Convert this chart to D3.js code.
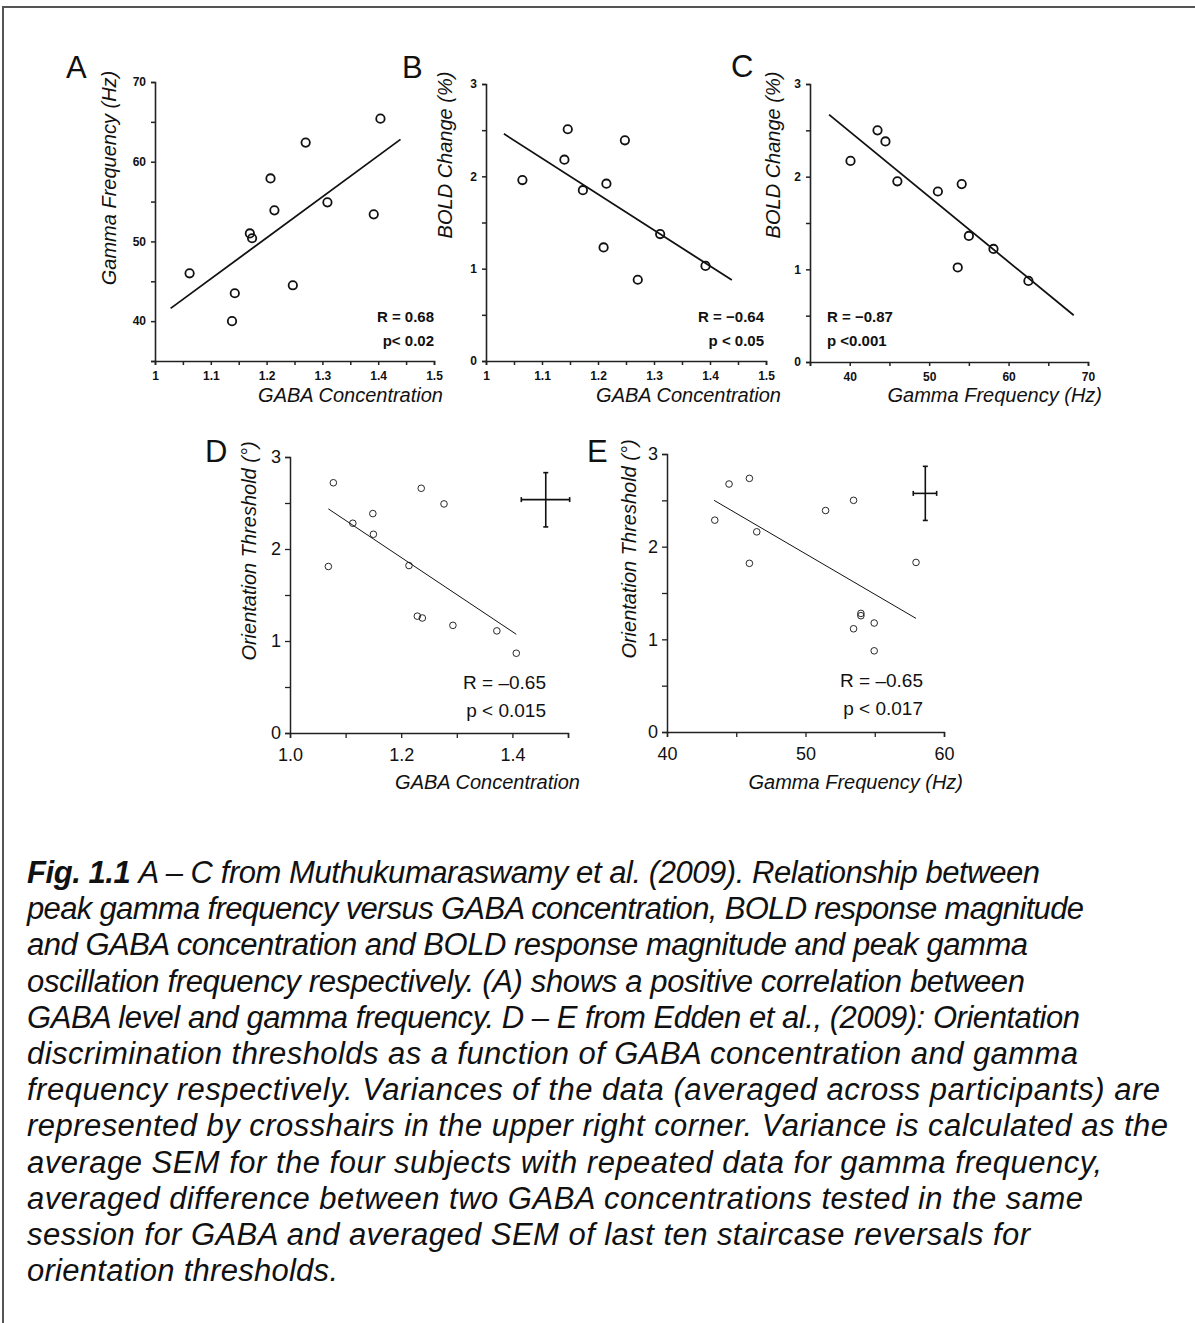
<!DOCTYPE html>
<html>
<head>
<meta charset="utf-8">
<script src="https://cdn.jsdelivr.net/npm/d3@7"></script>
<style>
  body { margin: 0; background: #fff; }
  svg text { font-family: "Liberation Sans", Arial, sans-serif; fill: #111; }
</style>
</head>
<body>
<div id="chart"></div>
<script>
// --- data ---
// A: gamma frequency vs GABA
const gabaA  = [1.062, 1.138, 1.143, 1.170, 1.174, 1.207, 1.214, 1.247, 1.270, 1.309, 1.392, 1.404];
const gammaA = [46.0, 40.0, 43.5, 51.0, 50.4, 57.9, 53.9, 44.5, 62.4, 54.9, 53.4, 65.4];
const fitA = [[1.028, 41.6], [1.440, 62.8]];

// B: BOLD change vs GABA
const gabaB = [1.065, 1.140, 1.146, 1.173, 1.215, 1.210, 1.248, 1.271, 1.311, 1.392];
const boldB = [1.96, 2.18, 2.51, 1.85, 1.92, 1.23, 2.39, 0.88, 1.375, 1.03];
const fitB = [[1.032, 2.46], [1.439, 0.877]];

// C: BOLD change vs gamma frequency
const gammaC = [40.1, 43.5, 44.5, 46.0, 51.1, 54.1, 53.6, 55.0, 58.1, 62.5];
const boldC  = [2.17, 2.50, 2.38, 1.95, 1.84, 1.92, 1.02, 1.36, 1.22, 0.875];
const fitC = [[37.4, 2.67], [68.2, 0.504]];

// D: orientation threshold vs GABA
const gabaD   = [1.078, 1.069, 1.113, 1.149, 1.150, 1.214, 1.236, 1.277, 1.229, 1.238, 1.293, 1.372, 1.407];
const threshD = [2.72, 1.81, 2.28, 2.385, 2.16, 1.82, 2.66, 2.49, 1.27, 1.25, 1.17, 1.11, 0.867];
const fitD = [[1.069, 2.436], [1.407, 1.073]];
const crossD = {x: 1.460, y: 2.537, x0: 1.416, x1: 1.503, y0: 2.24, y1: 2.83};

// E: orientation threshold vs gamma frequency
const gammaE  = [43.45, 44.48, 45.95, 46.48, 45.95, 51.45, 53.47, 57.98, 54.0, 54.0, 53.47, 54.96, 54.96];
const threshE = [2.286, 2.676, 2.737, 2.16, 1.82, 2.39, 2.50, 1.83, 1.28, 1.255, 1.114, 1.176, 0.876];
const fitE = [[43.4, 2.50], [57.98, 1.226]];
const crossE = {x: 58.65, y: 2.575, x0: 57.78, x1: 59.47, y0: 2.283, y1: 2.867};

// tick values and labels
const gabaTicksAB  = d3.range(0, 11).map(i => 1 + i * 0.05);
const gabaLabelsAB = [1, 1.1, 1.2, 1.3, 1.4, 1.5];
const gammaTicksA  = d3.range(35, 71, 5);
const gammaLabelsA = [40, 50, 60, 70];
const boldTicks    = [0, 0.5, 1, 1.5, 2, 2.5, 3];
const boldLabels   = [0, 1, 2, 3];
const gammaTicksC  = d3.range(35, 71, 5);
const gammaLabelsC = [40, 50, 60, 70];
const gabaTicksD   = [1.0, 1.1, 1.2, 1.3, 1.4, 1.5];
const gabaLabelsD  = [1.0, 1.2, 1.4];
const gammaTicksE  = [40, 45, 50, 55, 60];
const gammaLabelsE = [40, 50, 60];

const captionLines = [
  "A \u2013 C from Muthukumaraswamy et al. (2009). Relationship between",
  "peak gamma frequency versus GABA concentration, BOLD response magnitude",
  "and GABA concentration and BOLD response magnitude and peak gamma",
  "oscillation frequency respectively. (A) shows a positive correlation between",
  "GABA level and gamma frequency. D \u2013 E from Edden et al., (2009): Orientation",
  "discrimination thresholds as a function of GABA concentration and gamma",
  "frequency respectively. Variances of the data (averaged across participants) are",
  "represented by crosshairs in the upper right corner. Variance is calculated as the",
  "average SEM for the four subjects with repeated data for gamma frequency,",
  "averaged difference between two GABA concentrations tested in the same",
  "session for GABA and averaged SEM of last ten staircase reversals for",
  "orientation thresholds."
];
// where each caption line ends on the page (layout, not data)
const captionRight = [1040, 1084, 1028, 1025, 1080, 1078, 1160, 1168, 1102, 1083, 1030, 338];

const W = 1195, H = 1323;
const svg = d3.select("#chart").append("svg")
  .attr("width", W).attr("height", H);

// frame (top and left edges only)
svg.append("path")
  .attr("d", `M3,${H} L3,7 L${W},7`)
  .attr("fill", "none").attr("stroke", "#555").attr("stroke-width", 2);

// panel definitions
const panels = [
  {letter: "A", lx: 66, ly: 78, xs: gabaA, ys: gammaA, fit: fitA,
   box: [155, 434, 82, 361], xd: [1, 1.5], yd: [35, 70],
   xt: gabaTicksAB, xl: gabaLabelsAB, yt: gammaTicksA, yl: gammaLabelsA, xf: d3.format("~g"),
   xlab: "GABA Concentration", xlx: 443, xly: 402,
   ylab: "Gamma Frequency (Hz)", ylx: 116, yly: 178,
   stats: ["R = 0.68", "p< 0.02"], sx: 434, sy: 322, anchor: "end", style: "old"},
  {letter: "B", lx: 402, ly: 78, xs: gabaB, ys: boldB, fit: fitB,
   box: [486, 766, 84, 361], xd: [1, 1.5], yd: [0, 3],
   xt: gabaTicksAB, xl: gabaLabelsAB, yt: boldTicks, yl: boldLabels, xf: d3.format("~g"),
   xlab: "GABA Concentration", xlx: 781, xly: 402,
   ylab: "BOLD Change (%)", ylx: 452, yly: 155,
   stats: ["R = \u22120.64", "p < 0.05"], sx: 764, sy: 322, anchor: "end", style: "old"},
  {letter: "C", lx: 731, ly: 77, xs: gammaC, ys: boldC, fit: fitC,
   box: [810, 1088, 84, 362], xd: [35, 70], yd: [0, 3],
   xt: gammaTicksC, xl: gammaLabelsC, yt: boldTicks, yl: boldLabels, xf: d3.format("d"),
   xlab: "Gamma Frequency (Hz)", xlx: 1102, xly: 402,
   ylab: "BOLD Change (%)", ylx: 780, yly: 155,
   stats: ["R = \u22120.87", "p <0.001"], sx: 827, sy: 322, anchor: "start", style: "old"},
  {letter: "D", lx: 205, ly: 462, xs: gabaD, ys: threshD, fit: fitD, cross: crossD,
   box: [290, 568, 457, 733], xd: [1.0, 1.5], yd: [0, 3],
   xt: gabaTicksD, xl: gabaLabelsD, yt: boldTicks, yl: boldLabels, xf: d3.format(".1f"),
   xlab: "GABA Concentration", xlx: 580, xly: 789,
   ylab: "Orientation Threshold (\u00b0)", ylx: 256, yly: 551,
   stats: ["R = \u20130.65", "p < 0.015"], sx: 546, sy: 689, anchor: "end", style: "new"},
  {letter: "E", lx: 587, ly: 462, xs: gammaE, ys: threshE, fit: fitE, cross: crossE,
   box: [667, 944, 454, 732], xd: [40, 60], yd: [0, 3],
   xt: gammaTicksE, xl: gammaLabelsE, yt: boldTicks, yl: boldLabels, xf: d3.format("d"),
   xlab: "Gamma Frequency (Hz)", xlx: 963, xly: 789,
   ylab: "Orientation Threshold (\u00b0)", ylx: 636, yly: 549,
   stats: ["R = \u20130.65", "p < 0.017"], sx: 923, sy: 687, anchor: "end", style: "new"}
];

panels.forEach(p => {
  const [x0, x1, y0, y1] = p.box;
  const old = p.style === "old";
  const x = d3.scaleLinear().domain(p.xd).range([x0, x1]);
  const y = d3.scaleLinear().domain(p.yd).range([y1, y0]);
  const g = svg.append("g");

  const fmtY = v => p.yl.includes(v) ? String(v) : "";
  const fmtX = v => p.xl.some(l => Math.abs(l - v) < 1e-9) ? p.xf(v) : "";

  const yAxis = g.append("g").attr("transform", `translate(${x0},0)`)
    .call(d3.axisLeft(y).tickValues(p.yt).tickFormat(fmtY)
      .tickSize(old ? 4 : 5).tickPadding(old ? 5 : 4));
  const xAxis = g.append("g").attr("transform", `translate(0,${y1})`)
    .call(d3.axisBottom(x).tickValues(p.xt).tickFormat(fmtX)
      .tickSize(old ? 4 : 5).tickPadding(old ? 6 : 10));

  [yAxis, xAxis].forEach(ax => {
    ax.select(".domain").attr("stroke", "#222").attr("stroke-width", old ? 1.6 : 1.5);
    ax.selectAll(".tick line").attr("stroke", "#222").attr("stroke-width", old ? 1.5 : 1.3);
    ax.selectAll(".tick text")
      .style("font-family", '"Liberation Sans", Arial, sans-serif')
      .style("font-size", old ? "12px" : "18px")
      .style("font-weight", old ? "bold" : "normal")
      .attr("fill", "#222");
  });

  // regression line
  g.append("line")
    .attr("x1", x(p.fit[0][0])).attr("y1", y(p.fit[0][1]))
    .attr("x2", x(p.fit[1][0])).attr("y2", y(p.fit[1][1]))
    .attr("stroke", "#111").attr("stroke-width", old ? 1.8 : 1);

  // data points
  g.selectAll("circle.pt")
    .data(p.xs.map((v, i) => [v, p.ys[i]]))
    .enter().append("circle")
    .attr("class", "pt")
    .attr("cx", d => x(d[0])).attr("cy", d => y(d[1]))
    .attr("r", old ? 4.2 : 3.3)
    .attr("fill", "none").attr("stroke", "#111")
    .attr("stroke-width", old ? 1.8 : 0.9);

  // variance crosshair
  if (p.cross) {
    const c = p.cross, cap = 2.5;
    const cg = g.append("g").attr("stroke", "#111").attr("stroke-width", 1.6);
    cg.append("line").attr("x1", x(c.x0)).attr("x2", x(c.x1)).attr("y1", y(c.y)).attr("y2", y(c.y));
    cg.append("line").attr("x1", x(c.x)).attr("x2", x(c.x)).attr("y1", y(c.y0)).attr("y2", y(c.y1));
    cg.append("line").attr("x1", x(c.x0)).attr("x2", x(c.x0)).attr("y1", y(c.y) - cap).attr("y2", y(c.y) + cap);
    cg.append("line").attr("x1", x(c.x1)).attr("x2", x(c.x1)).attr("y1", y(c.y) - cap).attr("y2", y(c.y) + cap);
    cg.append("line").attr("x1", x(c.x) - cap).attr("x2", x(c.x) + cap).attr("y1", y(c.y0)).attr("y2", y(c.y0));
    cg.append("line").attr("x1", x(c.x) - cap).attr("x2", x(c.x) + cap).attr("y1", y(c.y1)).attr("y2", y(c.y1));
  }

  // stats text
  p.stats.forEach((s, i) => {
    g.append("text")
      .attr("x", p.sx).attr("y", p.sy + i * (old ? 23.5 : 28))
      .attr("text-anchor", p.anchor)
      .style("font-size", old ? "15px" : "19px")
      .style("font-weight", old ? "bold" : "normal")
      .text(s);
  });

  // axis titles
  g.append("text")
    .attr("x", p.xlx).attr("y", p.xly)
    .attr("text-anchor", "end")
    .style("font-size", "20px").style("font-style", "italic")
    .text(p.xlab);
  g.append("text")
    .attr("transform", `translate(${p.ylx},${p.yly}) rotate(-90)`)
    .attr("text-anchor", "middle")
    .style("font-size", "20px").style("font-style", "italic")
    .text(p.ylab);

  // panel letter
  g.append("text")
    .attr("x", p.lx).attr("y", p.ly)
    .style("font-size", "31px")
    .text(p.letter);
});

// caption
const capX = 27;
const cap = svg.append("g");
captionLines.forEach((line, i) => {
  const t = cap.append("text")
    .attr("x", capX).attr("y", 883 + i * 36.2)
    .style("font-size", "31px").style("font-style", "italic");
  if (i === 0) {
    t.append("tspan").style("font-weight", "bold").text("Fig. 1.1 ");
  }
  t.append("tspan").text(line);
  // adjust spacing so each line ends where it does in the figure
  t.attr("textLength", captionRight[i] - capX).attr("lengthAdjust", "spacing");
});
</script>
</body>
</html>
